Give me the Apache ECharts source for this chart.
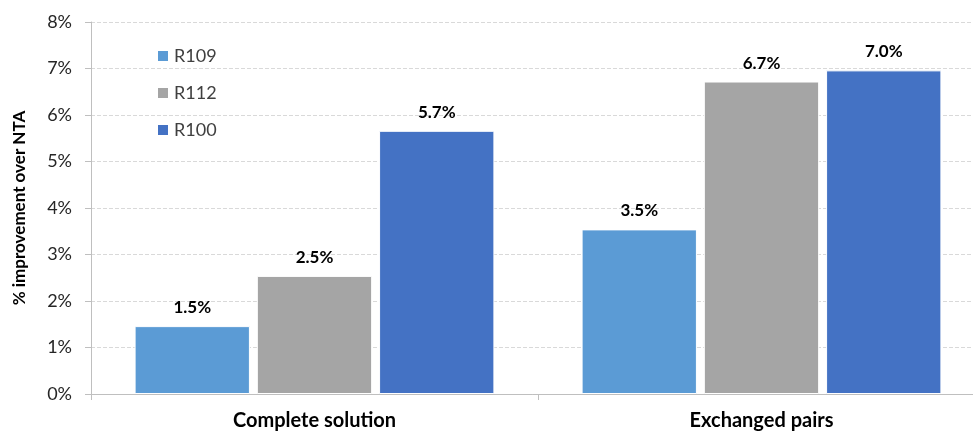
<!DOCTYPE html>
<html><head><meta charset="utf-8">
<script src="https://cdn.jsdelivr.net/npm/echarts@6/dist/echarts.min.js"></script>
<style>html,body{margin:0;padding:0;background:#fff}#c{width:973px;height:432px}</style>
</head><body><div id="c"></div>
<script>
var categories = ["Complete solution", "Exchanged pairs"];
var seriesNames = ["R109", "R112", "R100"];
var r109 = [1.46, 3.54];
var r112 = [2.54, 6.72];
var r100 = [5.66, 6.96];
var yTicks = [0, 1, 2, 3, 4, 5, 6, 7, 8];

var colors = ["#5B9BD5", "#A5A5A5", "#4472C4"];
var font = "Lato, 'Open Sans', sans-serif";
var values = [r109, r112, r100];

var chart = echarts.init(document.getElementById('c'), null, {renderer: 'canvas'});
chart.setOption({
  animation: false,
  color: colors,
  grid: {left: 91, width: 894, top: 22, height: 372, containLabel: false, outerBoundsMode: 'none'},
  legend: {
    orient: 'vertical', left: 151, top: 42, itemGap: 19,
    itemWidth: 12, itemHeight: 12, icon: 'rect',
    textStyle: {fontFamily: font, fontSize: 18, color: '#404040'},
    data: seriesNames
  },
  xAxis: {
    type: 'category', data: categories,
    axisLine: {lineStyle: {color: '#BFBFBF', width: 1}},
    axisTick: {show: true, length: 6, lineStyle: {color: '#BFBFBF'}},
    axisLabel: {fontFamily: font, fontSize: 20, fontWeight: 'bold', color: '#000', margin: 17}
  },
  yAxis: {
    type: 'value', min: yTicks[0], max: yTicks[yTicks.length - 1], interval: 1,
    name: '% improvement over NTA', nameLocation: 'middle', nameGap: 63, nameRotate: 90,
    nameTextStyle: {fontFamily: font, fontSize: 17, fontWeight: 'bold', color: '#000'},
    axisLine: {show: true, lineStyle: {color: '#BFBFBF'}},
    axisTick: {show: true, length: 6, lineStyle: {color: '#BFBFBF'}},
    axisLabel: {formatter: '{value}%', fontFamily: font, fontSize: 18, color: '#262626', margin: 19},
    splitLine: {lineStyle: {color: '#D9D9D9', type: 'dashed'}}
  },
  series: seriesNames.map(function (n, i) {
    return {
      name: n, type: 'bar', data: values[i],
      barWidth: '25.8%', barGap: '6%',
      itemStyle: {color: colors[i], borderColor: '#ffffff', borderWidth: 1},
      label: {
        show: true, position: 'top', distance: 10,
        fontFamily: font, fontSize: 17, fontWeight: 'bold', color: '#000',
        formatter: function (p) { return p.value.toFixed(1) + '%'; }
      }
    };
  })
});
</script></body></html>
